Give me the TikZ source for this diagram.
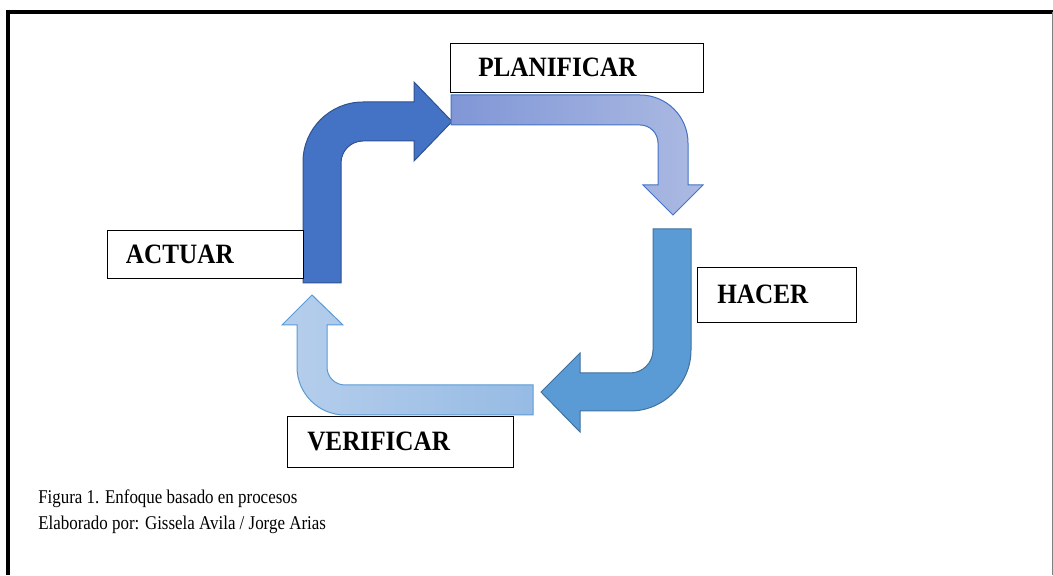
\documentclass[tikz,border=0pt]{standalone}
\usepackage{fontspec}
\setmainfont{Liberation Serif}
\newfontfamily\tagfont[FakeStretch=0.9]{Liberation Serif}
\newfontfamily\capfont[FakeStretch=0.87]{Liberation Serif}
\usetikzlibrary{positioning}
\definecolor{actfill}{HTML}{4472C4}
\definecolor{actline}{HTML}{2F528F}
\definecolor{hacfill}{HTML}{5B9BD5}
\definecolor{hacline}{HTML}{41719C}
\definecolor{planL}{RGB}{128,150,214}
\definecolor{planR}{RGB}{172,186,226}
\definecolor{planline}{HTML}{4472C4}
\definecolor{verL}{RGB}{182,206,236}
\definecolor{verR}{RGB}{150,187,228}
\definecolor{verline}{HTML}{5B9BD5}
\tikzset{
  tagbox/.style={rectangle, draw, line width=0.6pt, inner sep=0pt, outer sep=0pt, fill=white},
  tagtxt/.style={inner sep=0pt, font=\tagfont\bfseries\fontsize{21}{25}\selectfont},
  captxt/.style={inner sep=0pt, anchor=base west, font=\capfont\fontsize{14.6}{19.5}\selectfont},
  bendarr/.style={line width=0.75pt, line join=miter}
}

\begin{document}
\begin{tikzpicture}[x=0.75pt, y=0.75pt]
  \useasboundingbox (0,0) rectangle (1053,575);
  % frame
  \draw[line width=3pt] (6,563) -- (1053,563);
  \draw[line width=3pt] (8,565) -- (8,0);
  \draw[gray, line width=0.75pt] (1052,563) -- (1052,0);

  % bent arrows of the cycle
  \draw[bendarr, fill=actfill, draw=actline] (303,292) -- (303,413)
    arc[start angle=180, end angle=90, radius=60] -- (414,473) -- (414,493)
    -- (452,453.5) -- (414,414) -- (414,434) -- (363,434)
    arc[start angle=90, end angle=180, radius=22] -- (341,292) -- cycle;
  \draw[bendarr, left color=planL, right color=planR, draw=planline] (451,480) -- (640,480)
    arc[start angle=90, end angle=0, radius=48] -- (688,390) -- (703,390)
    -- (673,360) -- (643,390) -- (658,390) -- (658,432)
    arc[start angle=0, end angle=90, radius=18] -- (451,450) -- cycle;
  \draw[bendarr, fill=hacfill, draw=hacline] (653,346) -- (691,346) -- (691,225)
    arc[start angle=0, end angle=-90, radius=61] -- (580,164) -- (580,143)
    -- (541,183) -- (580,222) -- (580,202) -- (630,202)
    arc[start angle=-90, end angle=0, radius=23] -- (653,225) -- cycle;
  \draw[bendarr, left color=verL, right color=verR, draw=verline] (533,190) -- (345,190)
    arc[start angle=-90, end angle=-180, radius=18] -- (327,250) -- (343,250)
    -- (312,280) -- (282,250) -- (297,250) -- (297,208)
    arc[start angle=180, end angle=270, radius=48] -- (533,160) -- cycle;

  % labels
  \node[tagbox, minimum width=189.75pt, minimum height=36.75pt] (planbox) at (576.5,507.5) {};
  \node[tagtxt, right=21pt of planbox.west] (plan) {PLANIFICAR};
  \node[tagbox, minimum width=147pt, minimum height=36pt] (actbox) at (205,321) {};
  \node[tagtxt, right=14pt of actbox.west] (act) {ACTUAR};
  \node[tagbox, minimum width=119.25pt, minimum height=41.25pt] (hacbox) at (776.5,280.5) {};
  \node[tagtxt, right=15pt of hacbox.west] (hac) {HACER};
  \node[tagbox, minimum width=169.5pt, minimum height=38.25pt] (verbox) at (400,133.5) {};
  \node[tagtxt, right=15pt of verbox.west] (ver) {VERIFICAR};

  % caption
  \node[captxt] (cap1) at (38,72) {Figura 1. Enfoque basado en procesos};
  \node[captxt] (cap2) at (38,46) {Elaborado por: Gissela Avila / Jorge Arias};
\end{tikzpicture}
\end{document}
